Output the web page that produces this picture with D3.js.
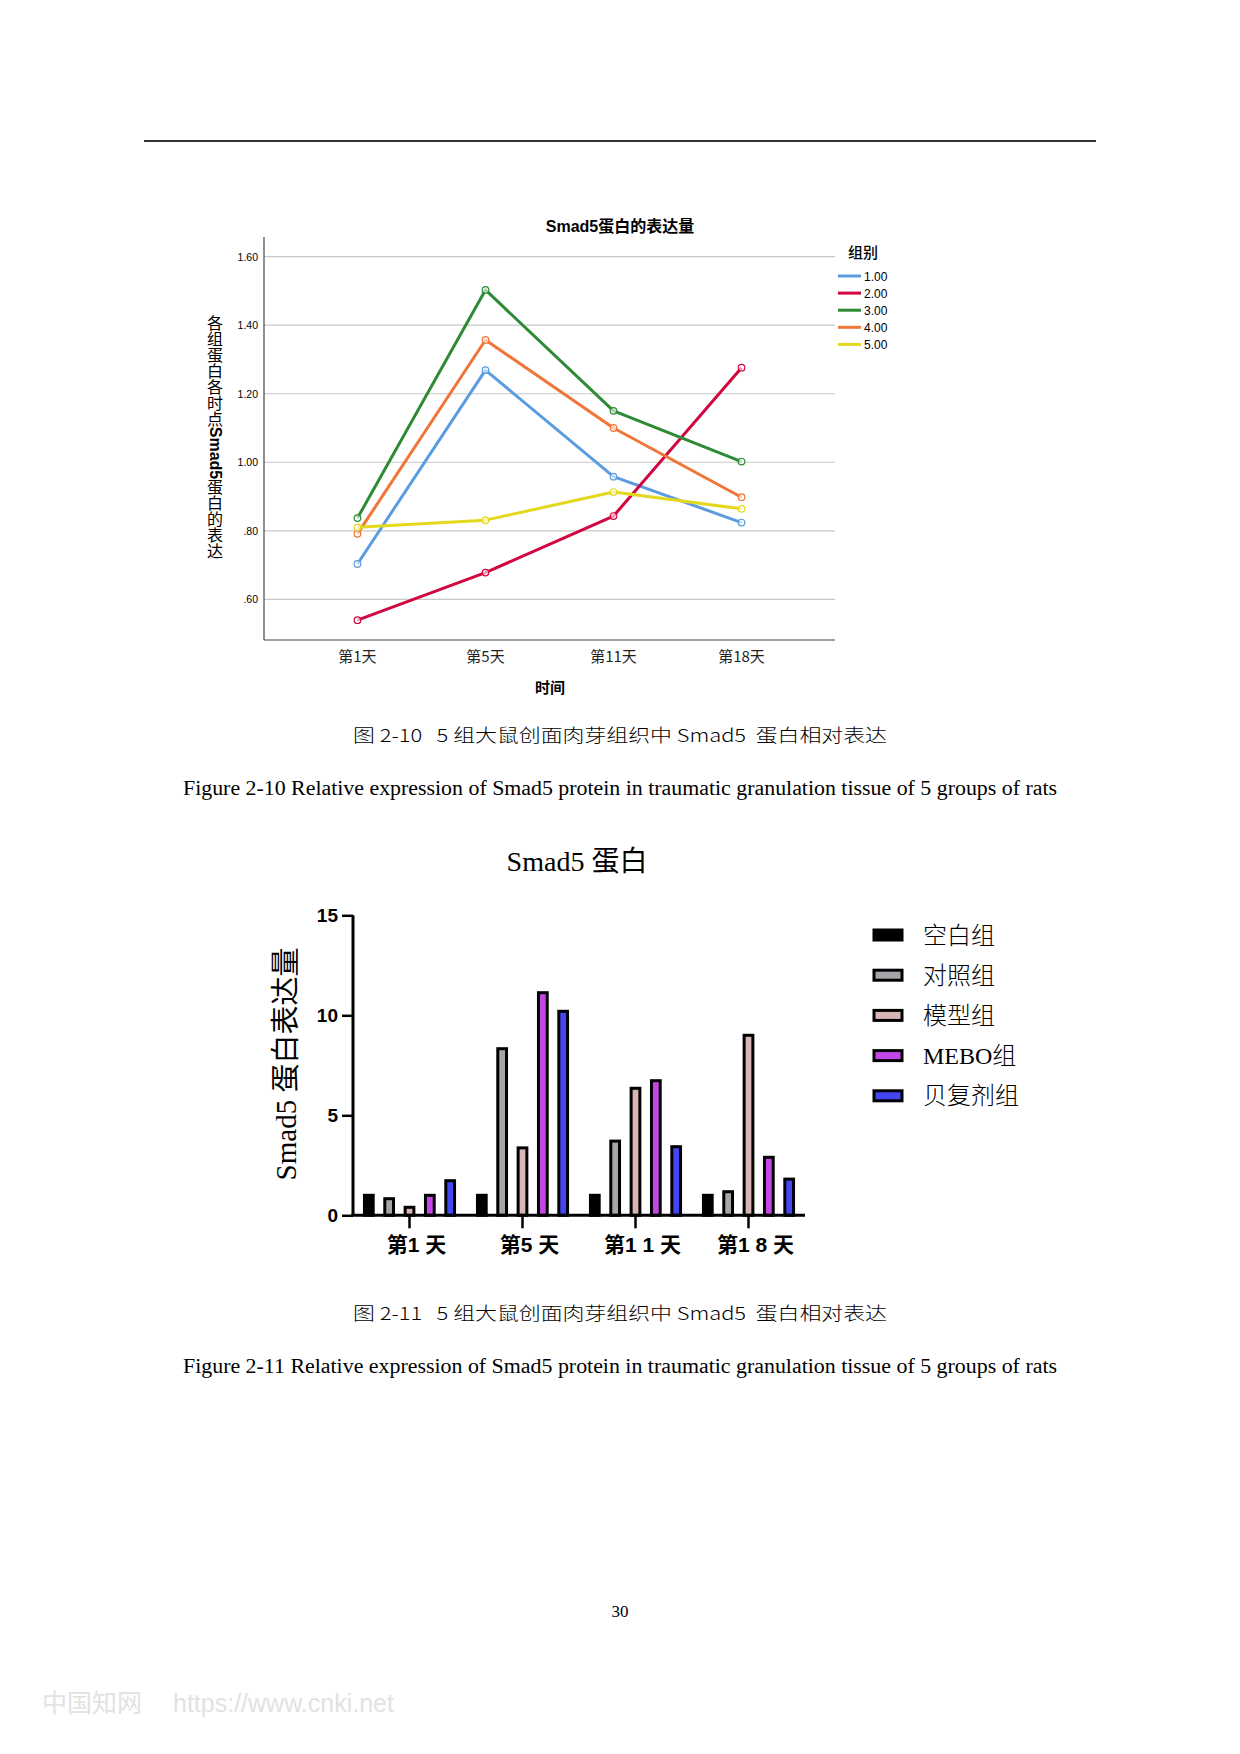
<!DOCTYPE html>
<html>
<head>
<meta charset="utf-8">
<script src="https://cdn.jsdelivr.net/npm/d3@7/dist/d3.min.js"></script>
<style>
  body { margin: 0; background: #fff; }
  svg { display: block; }
</style>
</head>
<body>
<svg id="page" width="1240" height="1754"></svg>
<script>
// line chart data (fig 2-10)
var days = ["第1天", "第5天", "第11天", "第18天"];
var groups = ["1.00", "2.00", "3.00", "4.00", "5.00"];
var lineColors = ["#5b9ce0", "#d1073f", "#2e8a34", "#f07638", "#e4d81c"];
var lineValues = [
  [0.703, 1.269, 0.958, 0.824],
  [0.539, 0.678, 0.843, 1.276],
  [0.837, 1.503, 1.150, 1.002],
  [0.791, 1.357, 1.100, 0.898],
  [0.810, 0.831, 0.913, 0.864]
];
var lineTicks = [0.6, 0.8, 1.0, 1.2, 1.4, 1.6];

// bar chart data (fig 2-11)
var barDays = ["第1 天", "第5 天", "第1 1 天", "第1 8 天"];
var barGroups = ["空白组", "对照组", "模型组", "MEBO组", "贝复剂组"];
var barColors = ["#000000", "#a6a6aa", "#d8b6b4", "#c446e6", "#4545f2"];
var barValues = [
  [1.0, 0.83, 0.40, 1.0, 1.73],
  [1.0, 8.33, 3.37, 11.13, 10.2],
  [1.0, 3.71, 6.35, 6.73, 3.43],
  [1.0, 1.18, 9.0, 2.9, 1.81]
];
var barTicks = [0, 5, 10, 15];

var svg = d3.select("#page");
var cjk = "'Noto Sans CJK SC', 'Noto Sans', sans-serif";
var serif = "'Liberation Serif', 'Noto Sans CJK SC', serif";
var arial = "'Liberation Sans', Arial, 'Noto Sans CJK SC', sans-serif";

// page header rule
svg.append("line").attr("x1", 144).attr("x2", 1096).attr("y1", 141).attr("y2", 141)
  .attr("stroke", "#333").attr("stroke-width", 2);

// ---------- line chart ----------
var L = {left: 264, right: 835, top: 237, bottom: 640};
var lx = d3.scalePoint().domain(days).range([L.left, L.right]).padding(0.73);
var ly = d3.scaleLinear().domain([0.6, 1.6]).range([599.3, 256.7]);

var g1 = svg.append("g");

g1.selectAll(".grid").data(lineTicks).enter().append("line")
  .attr("x1", L.left).attr("x2", L.right)
  .attr("y1", function(d) { return ly(d); }).attr("y2", function(d) { return ly(d); })
  .attr("stroke", "#c8c8c8").attr("stroke-width", 1.2);

g1.append("line").attr("x1", L.left).attr("x2", L.left).attr("y1", L.top).attr("y2", L.bottom)
  .attr("stroke", "#444").attr("stroke-width", 1.2);
g1.append("line").attr("x1", L.left).attr("x2", L.right).attr("y1", L.bottom).attr("y2", L.bottom)
  .attr("stroke", "#444").attr("stroke-width", 1.2);

g1.selectAll(".ytl").data(lineTicks).enter().append("text")
  .attr("x", 258).attr("y", function(d) { return ly(d) + 4; })
  .attr("text-anchor", "end").attr("font-family", arial).attr("font-size", 10.5)
  .text(function(d) { return d < 1 ? d3.format(".2f")(d).slice(1) : d3.format(".2f")(d); });

g1.selectAll(".xtl").data(days).enter().append("text")
  .attr("x", function(d) { return lx(d); }).attr("y", 662)
  .attr("text-anchor", "middle").attr("font-family", cjk).attr("font-size", 15)
  .attr("fill", "#222")
  .text(function(d) { return d; });

g1.append("text").attr("x", 550).attr("y", 693).attr("text-anchor", "middle")
  .attr("font-family", cjk).attr("font-size", 15).attr("font-weight", "bold").text("时间");

// vertical y title (CJK upright, Smad5 sideways)
var yt = g1.append("text").attr("x", 215).attr("y", 437)
  .attr("text-anchor", "middle").attr("font-family", cjk).attr("font-size", 16)
  .style("writing-mode", "vertical-rl");
yt.append("tspan").text("各组蛋白各时点");
yt.append("tspan").attr("font-family", arial).attr("font-weight", "bold").text("Smad5");
yt.append("tspan").text("蛋白的表达");

var tt = g1.append("text").attr("x", 620).attr("y", 232).attr("text-anchor", "middle")
  .attr("font-size", 16).attr("font-weight", "bold");
tt.append("tspan").attr("font-family", arial).text("Smad5");
tt.append("tspan").attr("font-family", cjk).text("蛋白的表达量");

var line = d3.line().x(function(d, i) { return lx(days[i]); }).y(function(d) { return ly(d); });

lineValues.forEach(function(vals, k) {
  g1.append("path").attr("d", line(vals)).attr("fill", "none")
    .attr("stroke", lineColors[k]).attr("stroke-width", 3).attr("stroke-linejoin", "round");
  g1.selectAll(".pt" + k).data(vals).enter().append("circle")
    .attr("cx", function(d, i) { return lx(days[i]); })
    .attr("cy", function(d) { return ly(d); })
    .attr("r", 3.3).attr("fill", "#fff").attr("fill-opacity", 0.6)
    .attr("stroke", lineColors[k]).attr("stroke-width", 1.2);
});

// legend
g1.append("text").attr("x", 848).attr("y", 258).attr("font-family", cjk)
  .attr("font-size", 15).attr("font-weight", 500).text("组别");
var lg = g1.selectAll(".lg").data(groups).enter().append("g")
  .attr("transform", function(d, i) { return "translate(838," + (276 + i * 17.1) + ")"; });
lg.append("line").attr("x1", 0).attr("x2", 23).attr("y1", 0).attr("y2", 0)
  .attr("stroke", function(d, i) { return lineColors[i]; }).attr("stroke-width", 3);
lg.append("text").attr("x", 26).attr("y", 4.5).attr("font-family", arial).attr("font-size", 12)
  .text(function(d) { return d; });

// captions
function caption(y, cn, en) {
  svg.append("text").attr("x", 620).attr("y", y).attr("text-anchor", "middle")
    .attr("font-family", cjk).attr("font-size", 18).attr("font-weight", 300)
    .style("white-space", "pre")
    .attr("textLength", 534).attr("lengthAdjust", "spacingAndGlyphs").text(cn);
  svg.append("text").attr("x", 620).attr("y", y + 53).attr("text-anchor", "middle")
    .attr("font-family", serif).attr("font-size", 20)
    .attr("textLength", 874).attr("lengthAdjust", "spacingAndGlyphs").text(en);
}
caption(742, "图 2-10   5 组大鼠创面肉芽组织中 Smad5  蛋白相对表达",
  "Figure 2-10 Relative expression of Smad5 protein in traumatic granulation tissue of 5 groups of rats");

// ---------- bar chart ----------
var B = {left: 353, right: 805, top: 915.3, bottom: 1215.3};
var bx = d3.scaleBand().domain(barDays).range([B.left, B.right]).paddingInner(0.1).paddingOuter(0.05);
var bxi = d3.scaleBand().domain(barGroups).range([0, bx.bandwidth()]).paddingInner(0.57).paddingOuter(0.285);
var by = d3.scaleLinear().domain([0, 15]).range([B.bottom, B.top]);

var g2 = svg.append("g");

g2.append("text").attr("x", 577).attr("y", 871).attr("text-anchor", "middle")
  .attr("font-family", serif).attr("font-size", 28).text("Smad5 蛋白");

barValues.forEach(function(vals, gi) {
  g2.selectAll(".bar" + gi).data(vals).enter().append("rect")
    .attr("x", function(d, i) { return bx(barDays[gi]) + bxi(barGroups[i]); })
    .attr("y", function(d) { return by(d); })
    .attr("width", bxi.bandwidth())
    .attr("height", function(d) { return by(0) - by(d); })
    .attr("fill", function(d, i) { return barColors[i]; })
    .attr("stroke", "#000").attr("stroke-width", 3);
});

var yAxis = g2.append("g").attr("transform", "translate(" + B.left + ",0)")
  .call(d3.axisLeft(by).tickValues(barTicks).tickSize(11).tickPadding(4));
yAxis.select(".domain").attr("stroke-width", 3).attr("d", "M0," + B.top + "V" + B.bottom);
yAxis.selectAll(".tick line").attr("stroke-width", 2.5);
yAxis.selectAll(".tick text").attr("font-family", arial).attr("font-size", 19)
  .attr("font-weight", "bold").attr("fill", "#000");

var xAxis = g2.append("g").attr("transform", "translate(0," + B.bottom + ")")
  .call(d3.axisBottom(bx).tickSize(13).tickPadding(6));
xAxis.select(".domain").attr("stroke-width", 3).attr("d", "M" + (B.left - 1.5) + ",0H" + B.right);
xAxis.selectAll(".tick line").attr("stroke-width", 2.5);
xAxis.selectAll(".tick text").attr("font-family", arial).attr("font-size", 21)
  .attr("font-weight", "bold").attr("fill", "#000").attr("dy", "0.85em").attr("dx", 7);

g2.append("text").attr("transform", "translate(296,1064) rotate(-90)").attr("text-anchor", "middle")
  .attr("font-family", serif).attr("font-size", 29).text("Smad5 蛋白表达量");

var bl = g2.selectAll(".bl").data(barGroups).enter().append("g")
  .attr("transform", function(d, i) { return "translate(874," + (935 + i * 40.2) + ")"; });
bl.append("rect").attr("x", 0).attr("y", -5).attr("width", 28).attr("height", 10)
  .attr("fill", function(d, i) { return barColors[i]; }).attr("stroke", "#000").attr("stroke-width", 3);
bl.append("text").attr("x", 49).attr("y", 8.5).attr("font-family", serif).attr("font-size", 24)
  .attr("font-weight", 300).text(function(d) { return d; });

caption(1320, "图 2-11   5 组大鼠创面肉芽组织中 Smad5  蛋白相对表达",
  "Figure 2-11 Relative expression of Smad5 protein in traumatic granulation tissue of 5 groups of rats");

// page number and watermark
svg.append("text").attr("x", 620).attr("y", 1617).attr("text-anchor", "middle")
  .attr("font-family", serif).attr("font-size", 17).text("30");
svg.append("text").attr("x", 42).attr("y", 1712).attr("font-family", cjk).attr("font-size", 25)
  .attr("fill", "#e2e2e2").text("中国知网");
svg.append("text").attr("x", 173).attr("y", 1712).attr("font-family", arial).attr("font-size", 25)
  .attr("fill", "#e2e2e2").text("https://www.cnki.net");
</script>
</body>
</html>
